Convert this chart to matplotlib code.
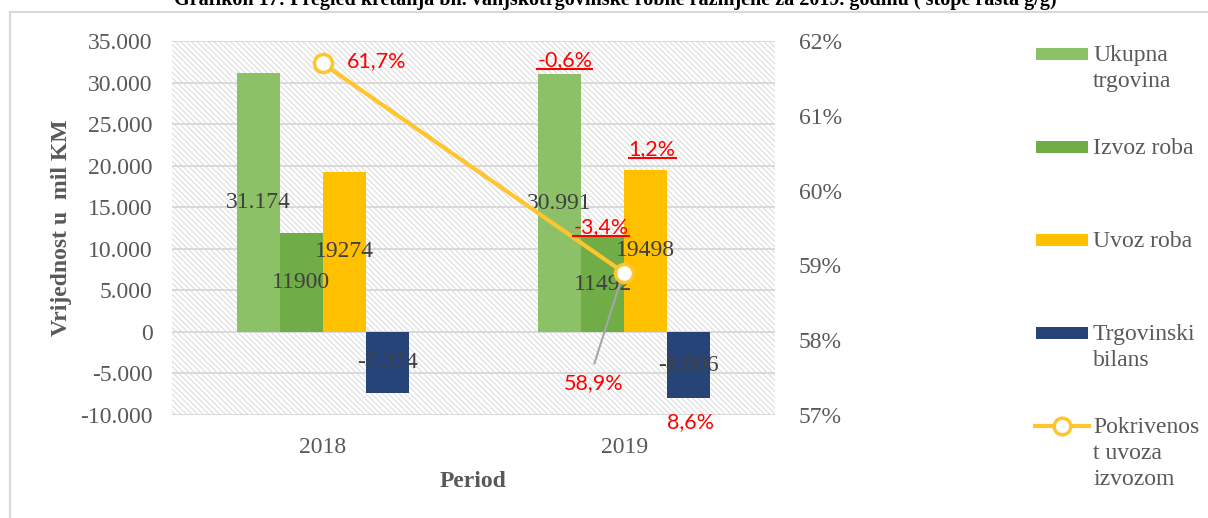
import matplotlib
matplotlib.use('Agg')
import matplotlib.pyplot as plt
from matplotlib.patches import Rectangle
from matplotlib.lines import Line2D
import numpy as np

# ---------------- data ----------------
years = ['2018', '2019']
ukupna = [31174, 30991]
izvoz = [11900, 11492]
uvoz = [19274, 19498]
bilans = [-7374, -8006]
pokrivenost = [61.7, 58.9]

ukupna_lbl = ['31.174', '30.991']
izvoz_lbl = ['11900', '11492']
uvoz_lbl = ['19274', '19498']
bilans_lbl = ['-7.374', '-8.006']
pokr_lbl = ['61,7%', '58,9%']
rast_lbl = ['-0,6%', '-3,4%', '1,2%', '8,6%']   # 2019 growth rates (ukupna, izvoz, uvoz, bilans)

left_ticks = [35000, 30000, 25000, 20000, 15000, 10000, 5000, 0, -5000, -10000]
left_tick_lbl = ['35.000', '30.000', '25.000', '20.000', '15.000', '10.000', '5.000', '0', '-5.000', '-10.000']
right_ticks = [57, 58, 59, 60, 61, 62]
right_tick_lbl = ['57%', '58%', '59%', '60%', '61%', '62%']

series_names = ['Ukupna\ntrgovina', 'Izvoz roba', 'Uvoz roba', 'Trgovinski\nbilans']
line_name = 'Pokrivenos\nt uvoza\nizvozom'
title = 'Grafikon 17: Pregled kretanja bh. vanjskotrgovinske robne razmjene za 2019. godinu ( stope rasta g/g)'

# ---------------- style ----------------
c_ukupna = '#8CC168'
c_izvoz = '#70AD47'
c_uvoz = '#FFC000'
c_bilans = '#264478'
c_line = '#FFC52E'
c_text = '#595959'
c_lbl = '#404040'
c_red = '#FF0000'
serif = 'Liberation Serif'
sans = 'Lato'
fs = 17
W, H = 1208, 518

plt.rcParams['hatch.linewidth'] = 0.8
fig = plt.figure(figsize=(W / 100, H / 100), dpi=100)
ax = fig.add_axes([172 / W, 1 - 415 / H, (775 - 172) / W, (415 - 41) / H])

# hatched plot-area background
bg = Rectangle((0, 0), 1, 1, transform=ax.transAxes, facecolor='white',
               edgecolor='#DDDDDD', hatch='\\' * 6, linewidth=0, zorder=0)
ax.add_patch(bg)

x = np.arange(len(years))
w = 0.143
colors = [c_ukupna, c_izvoz, c_uvoz, c_bilans]
vals = [ukupna, izvoz, uvoz, bilans]
labels_all = [ukupna_lbl, izvoz_lbl, uvoz_lbl, bilans_lbl]
for i, (v, c, lb) in enumerate(zip(vals, colors, labels_all)):
    xs = x + (i - 1.5) * w
    ax.bar(xs, v, width=w, color=c, zorder=2)
    for k in range(len(x)):
        ax.text(xs[k], v[k] / 2, lb[k], ha='center', va='center', fontfamily=serif,
                fontsize=fs, color=c_lbl, zorder=5)

ax.set_xlim(-0.5, 1.5)
ax.set_ylim(-10000, 35000)
ax.set_yticks(left_ticks)
ax.set_yticklabels(left_tick_lbl, fontfamily=serif, fontsize=fs, color=c_text)
ax.set_xticks(x)
ax.set_xticklabels(years, fontfamily=serif, fontsize=fs, color=c_text)
ax.tick_params(axis='y', length=0, pad=14)
ax.tick_params(axis='x', length=0, pad=16)
ax.yaxis.grid(True, color='#D9D9D9', lw=1.4)
ax.set_axisbelow(True)
for s in ax.spines.values():
    s.set_visible(False)
ax.set_xlabel('Period', fontfamily=serif, fontsize=fs, fontweight='bold', color=c_text, labelpad=9)
ax.set_ylabel('Vrijednost u  mil KM', fontfamily=serif, fontsize=fs, fontweight='bold', color=c_text, labelpad=6)

# secondary axis with line
ax2 = ax.twinx()
ax2.set_ylim(57, 62)
ax2.set_yticks(right_ticks)
ax2.set_yticklabels(right_tick_lbl, fontfamily=serif, fontsize=fs, color=c_text)
ax2.tick_params(axis='y', length=0, pad=17)
for s in ax2.spines.values():
    s.set_visible(False)
ax2.plot(x, pokrivenost, color=c_line, lw=3, marker='o', markersize=13,
         markerfacecolor='white', markeredgecolor=c_line, markeredgewidth=2.5, zorder=4)
ax2.set_xlim(-0.5, 1.5)

# red labels
ax2.text(0.178, 61.73, pokr_lbl[0], ha='center', va='center', fontfamily=sans, fontsize=15.5, color=c_red)
ax2.text(0.897, 57.42, pokr_lbl[1], ha='center', va='center', fontfamily=sans, fontsize=15.5, color=c_red)
ax2.plot([0.901, 0.997], [57.69, 58.9], color='#A6A6A6', lw=1.5, zorder=3)

under = []
under.append(ax.text(0.803, 32700, rast_lbl[0], ha='center', va='center', fontfamily=sans, fontsize=15.5, color=c_red))
under.append(ax.text(0.923, 12600, rast_lbl[1], ha='center', va='center', fontfamily=sans, fontsize=15.5, color=c_red))
under.append(ax.text(1.093, 22000, rast_lbl[2], ha='center', va='center', fontfamily=sans, fontsize=15.5, color=c_red))
ax.text(1.22, -10850, rast_lbl[3], ha='center', va='center', fontfamily=sans, fontsize=15.5,
        color=c_red, clip_on=False)

# figure frame and title
fig.add_artist(Rectangle((10 / W, -0.1), 1.2, 1 - 12 / H + 0.1, transform=fig.transFigure,
                         fill=False, edgecolor='#D9D9D9', lw=1.5))
fig.text(615 / W, 1 - 5 / H, title, ha='center', va='baseline', fontfamily=serif,
         fontsize=14.5, fontweight='bold', color='black')

# legend (drawn manually to match the tall spacing)
leg_y = [54, 147, 240, 333]
for name, c, yy in zip(series_names, colors, leg_y):
    fig.add_artist(Rectangle((1036 / W, 1 - (yy + 6) / H), 52 / W, 12 / H,
                             transform=fig.transFigure, facecolor=c, edgecolor='none'))
    fig.text(1093 / W, 1 - (yy - 9) / H, name, ha='left', va='top', fontfamily=serif,
             fontsize=fs, color=c_text, linespacing=1.32)
yy = 426
fig.add_artist(Line2D([1035 / W, 1089 / W], [1 - yy / H, 1 - yy / H], transform=fig.transFigure,
                      color=c_line, lw=3))
fig.add_artist(Line2D([1062 / W], [1 - yy / H], transform=fig.transFigure, color=c_line,
                      marker='o', markersize=12, markerfacecolor='white', markeredgewidth=2.5))
fig.text(1093 / W, 1 - (yy - 9) / H, line_name, ha='left', va='top', fontfamily=serif,
         fontsize=fs, color=c_text, linespacing=1.32)

# underline growth labels
fig.canvas.draw()
r = fig.canvas.get_renderer()
for t in under:
    bb = t.get_window_extent(r)
    yline = bb.y0 + 1
    fig.add_artist(Line2D([bb.x0 / W, bb.x1 / W], [yline / H, yline / H],
                          transform=fig.transFigure, color=c_red, lw=1.5))

fig.savefig('out.png', dpi=100)
